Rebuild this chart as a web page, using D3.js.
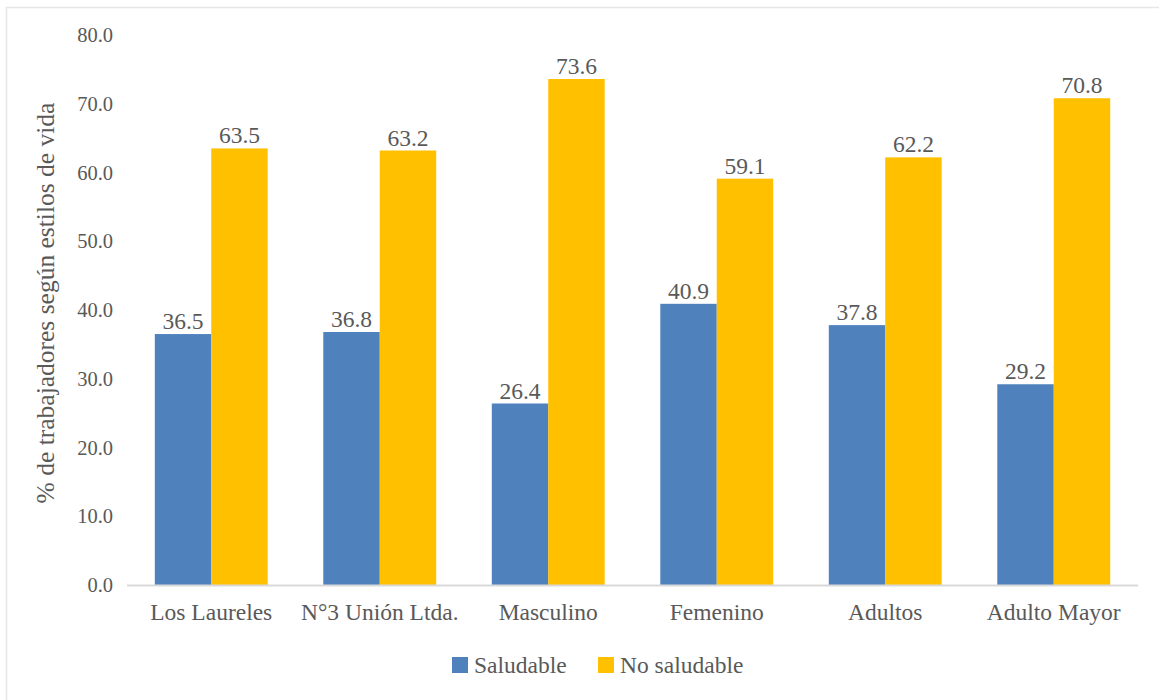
<!DOCTYPE html>
<html>
<head>
<meta charset="utf-8">
<script src="https://cdn.jsdelivr.net/npm/d3@7"></script>
<style>
  html, body { margin: 0; padding: 0; background: #fff; }
</style>
</head>
<body>
<svg id="chart" width="1159" height="700"></svg>
<script>
const categories = ["Los Laureles", "N°3 Unión Ltda.", "Masculino", "Femenino", "Adultos", "Adulto Mayor"];
const seriesNames = ["Saludable", "No saludable"];
const saludable = [36.5, 36.8, 26.4, 40.9, 37.8, 29.2];
const noSaludable = [63.5, 63.2, 73.6, 59.1, 62.2, 70.8];
const yTicks = [0, 10, 20, 30, 40, 50, 60, 70, 80];
const colors = ["#4F81BD", "#FFC000"];
const yTitle = "% de trabajadores según estilos de vida";

const FONT = "Liberation Serif";
const TXT = "#595959";

const svg = d3.select("#chart").attr("font-family", FONT);
const W = 1159, H = 700;

// outer frame
svg.append("rect").attr("x", 6.5).attr("y", 7.5).attr("width", W + 10).attr("height", H + 10)
  .attr("fill", "none").attr("stroke", "#e6e6e6").attr("stroke-width", 1.5);

const plot = { left: 127, right: 1138, top: 35, bottom: 585 };

const x = d3.scaleBand().domain(categories).range([plot.left, plot.right]).paddingInner(0.33).paddingOuter(0.165);
const xs = d3.scaleBand().domain(seriesNames).range([0, x.bandwidth()]);
const y = d3.scaleLinear().domain([0, 80]).range([plot.bottom, plot.top]);

const data = categories.map((c, i) => ({ cat: c, vals: [saludable[i], noSaludable[i]] }));

// bars
const g = svg.append("g");
data.forEach(d => {
  d.vals.forEach((v, k) => {
    g.append("rect")
      .attr("x", x(d.cat) + xs(seriesNames[k]))
      .attr("y", y(v))
      .attr("width", xs.bandwidth())
      .attr("height", y(0) - y(v))
      .attr("fill", colors[k]);
    g.append("text")
      .attr("x", x(d.cat) + xs(seriesNames[k]) + xs.bandwidth() / 2)
      .attr("y", y(v) - 5)
      .attr("text-anchor", "middle")
      .attr("font-family", FONT)
      .attr("font-size", 23.5)
      .attr("fill", TXT)
      .text(v.toFixed(1));
  });
});

// x axis line
svg.append("line").attr("x1", plot.left).attr("x2", plot.right)
  .attr("y1", y(0) + 0.5).attr("y2", y(0) + 0.5)
  .attr("stroke", "#d9d9d9").attr("stroke-width", 2);

// y axis
const yAxis = d3.axisLeft(y).tickValues(yTicks).tickFormat(d => d.toFixed(1)).tickSize(0).tickPadding(0);
const ya = svg.append("g").attr("transform", `translate(113,0)`).call(yAxis)
  .attr("font-family", FONT).attr("font-size", 20.5);
ya.select(".domain").remove();
ya.selectAll("text").attr("dy", "0.32em").attr("fill", TXT);

// x axis labels
const xAxis = d3.axisBottom(x).tickSize(0).tickPadding(0);
const xa = svg.append("g").attr("transform", `translate(0,${plot.bottom + 35})`).call(xAxis)
  .attr("font-family", FONT).attr("font-size", 23.5);
xa.select(".domain").remove();
xa.selectAll("text").attr("dy", "0").attr("fill", TXT);

// y title
svg.append("text")
  .attr("transform", `translate(54,303) rotate(-90)`)
  .attr("text-anchor", "middle")
  .attr("font-family", FONT)
  .attr("font-size", 25.5)
  .attr("fill", TXT)
  .text(yTitle);

// legend
const legend = [
  { name: seriesNames[0], color: colors[0], x: 452 },
  { name: seriesNames[1], color: colors[1], x: 598 }
];
legend.forEach(l => {
  svg.append("rect").attr("x", l.x).attr("y", 657).attr("width", 16).attr("height", 16).attr("fill", l.color);
  svg.append("text").attr("x", l.x + 22).attr("y", 673)
    .attr("font-family", FONT).attr("font-size", 23.5).attr("fill", TXT).text(l.name);
});
</script>
</body>
</html>
